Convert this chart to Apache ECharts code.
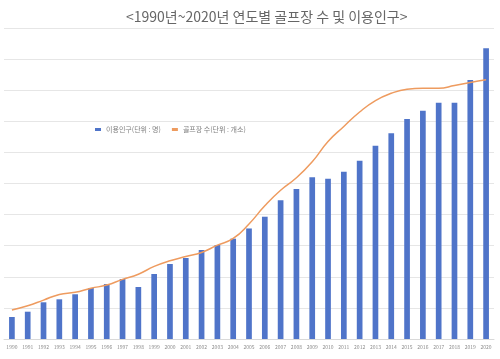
<!DOCTYPE html>
<html>
<head>
<meta charset="utf-8">
<script src="https://cdn.jsdelivr.net/npm/echarts@6/dist/echarts.min.js"></script>
<style>
html,body{margin:0;padding:0;background:#fff;}
#c{width:500px;height:359px;}
</style>
</head>
<body>
<div id="c"></div>
<script>
const years = ['1990','1991','1992','1993','1994','1995','1996','1997','1998','1999','2000','2001','2002','2003','2004','2005','2006','2007','2008','2009','2010','2011','2012','2013','2014','2015','2016','2017','2018','2019','2020'];
const users = [3537000,4390000,5900000,6380000,7190000,8200000,8840000,9650000,8360000,10450000,12060000,13020000,14310000,15110000,16130000,17770000,19660000,22300000,24120000,26000000,25770000,26900000,28670000,31080000,33070000,35370000,36700000,37990000,37990000,41640000,46740000];
const courses = [56,64,75,86,90,98,104,115,125,140,151,159,167,181,194,222,257,287,311,342,381,410,438,460,474,482,484,484,489,495,500];
const seriesNames = ['이용인구(단위 : 명)','골프장 수(단위 : 개소)'];
const titleText = '<1990년~2020년 연도별 골프장 수 및 이용인구>';

const chart = echarts.init(document.getElementById('c'), null, {renderer:'canvas'});
chart.setOption({
  animation:false,
  backgroundColor:'#ffffff',
  textStyle:{fontFamily:'"Noto Sans CJK KR","Noto Sans",sans-serif'},
  title:{
    text:titleText,
    left:121, top:5,
    textStyle:{fontSize:14, fontWeight:'normal', color:'#666666', fontFamily:'"Noto Sans CJK KR",sans-serif'}
  },
  legend:{
    left:90, top:121,
    itemGap:11,
    itemWidth:6, itemHeight:3,
    textStyle:{fontSize:7, color:'#808080'},
    data:[{name:seriesNames[0], icon:'rect'},{name:seriesNames[1], icon:'rect'}]
  },
  grid:{left:4, right:6, top:28, bottom:20, containLabel:false},
  xAxis:{
    type:'category',
    data:years,
    axisTick:{show:false},
    axisLine:{lineStyle:{color:'#d9d9d9'}},
    axisLabel:{interval:0, fontSize:5, color:'#8c8c8c', margin:6}
  },
  yAxis:[
    {type:'value', min:0, max:50000000, interval:5000000,
     axisLabel:{show:false}, axisLine:{show:false}, axisTick:{show:false},
     splitLine:{lineStyle:{color:'#e6e6e6'}}},
    {type:'value', min:0, max:600, interval:60,
     axisLabel:{show:false}, axisLine:{show:false}, axisTick:{show:false},
     splitLine:{show:false}}
  ],
  series:[
    {name:seriesNames[0], type:'bar', data:users, barWidth:'36%',
     itemStyle:{color:'#4f74c9'}},
    {name:seriesNames[1], type:'line', yAxisIndex:1, data:courses, smooth:true,
     symbol:'none', lineStyle:{color:'#ee9b5f', width:1.5}, itemStyle:{color:'#ee9b5f'}}
  ]
});
</script>
</body>
</html>
